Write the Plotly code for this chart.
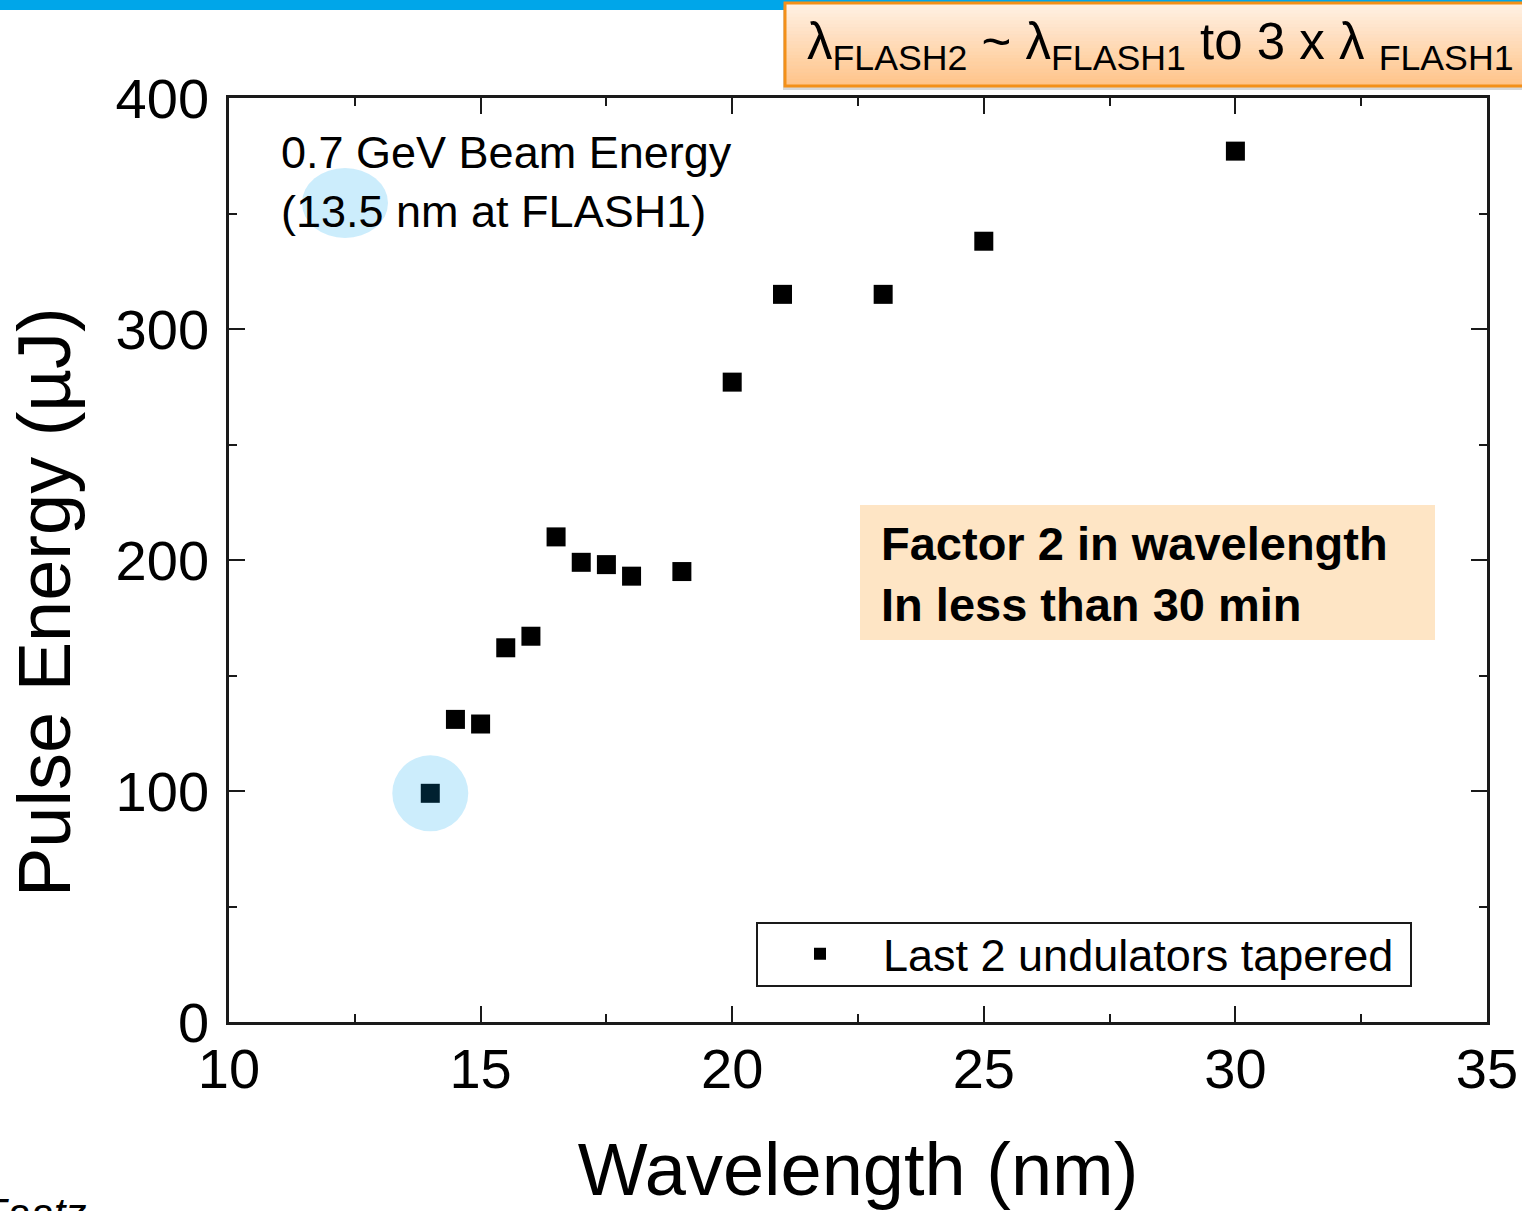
import plotly.graph_objects as go

# Measured FEL pulse energy vs. wavelength (0.7 GeV beam, last 2 undulators tapered)
wavelength_nm = [14.0, 14.5, 15.0, 15.5, 16.0, 16.5, 17.0, 17.5, 18.0, 19.0,
                 20.0, 21.0, 23.0, 25.0, 30.0]
pulse_energy_uJ = [99, 131, 129, 162, 167, 210, 199, 198, 193, 195,
                   277, 315, 315, 338, 377]
series_name = "Last 2 undulators tapered"

x_ticks = [10, 15, 20, 25, 30, 35]
y_ticks = [0, 100, 200, 300, 400]

W, H = 1522, 1211
L, R, T, B = 229, 35, 98, 189
PW, PH = W - L - R, H - T - B

FONT = "Liberation Sans, Arial, sans-serif"


def px(x):
    return (x - L) / PW


def py(y):
    return (H - B - y) / PH


fig = go.Figure()
fig.add_trace(go.Scatter(
    x=wavelength_nm, y=pulse_energy_uJ, mode="markers", name=series_name,
    marker=dict(symbol="square", size=19, color="black", line=dict(width=0)),
    showlegend=True,
))

axis_common = dict(
    showline=True, linecolor="#1a1a1a", linewidth=2.5, mirror="ticks",
    ticks="inside", ticklen=16, tickwidth=2, tickcolor="#1a1a1a",
    showgrid=False, zeroline=False, automargin=False,
    tickfont=dict(family=FONT, size=56, color="black"),
    minor=dict(ticks="inside", ticklen=8, tickwidth=2, tickcolor="#1a1a1a", showgrid=False),
)

fig.update_xaxes(
    range=[10, 35], tickvals=x_ticks, ticktext=[str(v) for v in x_ticks],
    minor_tickvals=[12.5, 17.5, 22.5, 27.5, 32.5],
    title=dict(text="Wavelength (nm)", font=dict(family=FONT, size=74, color="black"), standoff=50),
    ticklabelstandoff=-4,
    **axis_common,
)
fig.update_yaxes(
    range=[0, 400], tickvals=y_ticks, ticktext=[str(v) for v in y_ticks],
    minor_tickvals=[50, 150, 250, 350],
    ticklabelstandoff=6,
    **axis_common,
)

shapes = []
# Blue header strip
shapes.append(dict(type="rect", xref="paper", yref="paper", x0=px(0), x1=px(W), y0=py(0), y1=py(10),
                   fillcolor="#00a6e9", line=dict(width=0), layer="above"))
# Header box with soft drop shadow and vertical orange gradient
bx0, bx1, by0, by1 = 785, W + 4, 3, 86
shapes.append(dict(type="rect", xref="paper", yref="paper", x0=px(bx0 - 2), x1=px(bx1), y0=py(by0 + 4), y1=py(by1 + 4),
                   fillcolor="rgba(140,140,140,0.35)", line=dict(width=0), layer="above"))
top_rgb, bot_rgb = (255, 241, 228), (255, 196, 138)
n_bands = 24
for i in range(n_bands):
    f = i / (n_bands - 1)
    c = tuple(round(top_rgb[k] + (bot_rgb[k] - top_rgb[k]) * f) for k in range(3))
    y0 = by0 + (by1 - by0) * i / n_bands
    y1 = by0 + (by1 - by0) * (i + 1) / n_bands
    shapes.append(dict(type="rect", xref="paper", yref="paper", x0=px(bx0), x1=px(bx1),
                       y0=py(y0), y1=py(y1 + 0.6), fillcolor="rgb(%d,%d,%d)" % c,
                       line=dict(width=0), layer="above"))
shapes.append(dict(type="rect", xref="paper", yref="paper", x0=px(bx0), x1=px(bx1), y0=py(by0), y1=py(by1),
                   fillcolor="rgba(0,0,0,0)", line=dict(color="#f39019", width=3), layer="above"))
# Highlight box for the tuning-speed note
shapes.append(dict(type="rect", xref="paper", yref="paper", x0=px(860), x1=px(1435), y0=py(505), y1=py(640),
                   fillcolor="#fee5c5", line=dict(width=0), layer="below"))
# Legend frame
shapes.append(dict(type="rect", xref="paper", yref="paper", x0=px(757), x1=px(1411), y0=py(923), y1=py(986),
                   fillcolor="rgba(0,0,0,0)", line=dict(color="#1a1a1a", width=2), layer="above"))
# Light-blue highlight around "13.5"
shapes.append(dict(type="circle", xref="paper", yref="paper", x0=px(302), x1=px(388), y0=py(168), y1=py(238),
                   fillcolor="rgba(0,164,240,0.2)", line=dict(width=0), layer="above"))
# Light-blue highlight around the 14 nm point
shapes.append(dict(type="circle", xref="x", yref="y", xsizemode="pixel", ysizemode="pixel",
                   xanchor=wavelength_nm[0], yanchor=pulse_energy_uJ[0],
                   x0=-38, x1=38, y0=-38, y1=38,
                   fillcolor="rgba(0,164,240,0.2)", line=dict(width=0), layer="above"))

annotations = [
    dict(xref="paper", yref="paper", x=px(44), y=py(602), xanchor="center", yanchor="middle",
         text="Pulse Energy (µJ)", textangle=-90,
         showarrow=False, font=dict(family=FONT, size=74, color="black")),
    dict(xref="paper", yref="paper", x=px(805), y=py(45), xanchor="left", yanchor="middle",
         text="λ<sub>FLASH2</sub> ~ λ<sub>FLASH1</sub> to 3 x λ <sub>FLASH1</sub>",
         showarrow=False, font=dict(family=FONT, size=51, color="black")),
    dict(xref="paper", yref="paper", x=px(279), y=py(125), xanchor="left", yanchor="top", align="left",
         text="0.7 GeV Beam Energy<br>(13.5 nm at FLASH1)",
         showarrow=False, font=dict(family=FONT, size=45, color="black")),
    dict(xref="paper", yref="paper", x=px(879), y=py(574), xanchor="left", yanchor="middle", align="left",
         text="<b>Factor 2 in wavelength<br>In less than 30 min</b>",
         showarrow=False, font=dict(family=FONT, size=47, color="black")),
    dict(xref="paper", yref="paper", x=px(88), y=py(1188), xanchor="right", yanchor="top",
         text="<i>B. Faatz</i>", showarrow=False, font=dict(family=FONT, size=42, color="black")),
]

fig.update_layout(
    width=W, height=H,
    margin=dict(l=L, r=R, t=T, b=B, pad=0, autoexpand=False),
    paper_bgcolor="white", plot_bgcolor="white",
    shapes=shapes, annotations=annotations,
    showlegend=True,
    legend=dict(x=px(757), y=py(918), xanchor="left", yanchor="top",
                borderwidth=0, bgcolor="rgba(0,0,0,0)",
                font=dict(family=FONT, size=45, color="black"),
                itemsizing="constant", itemwidth=116),
)

fig.write_html("out.html")
